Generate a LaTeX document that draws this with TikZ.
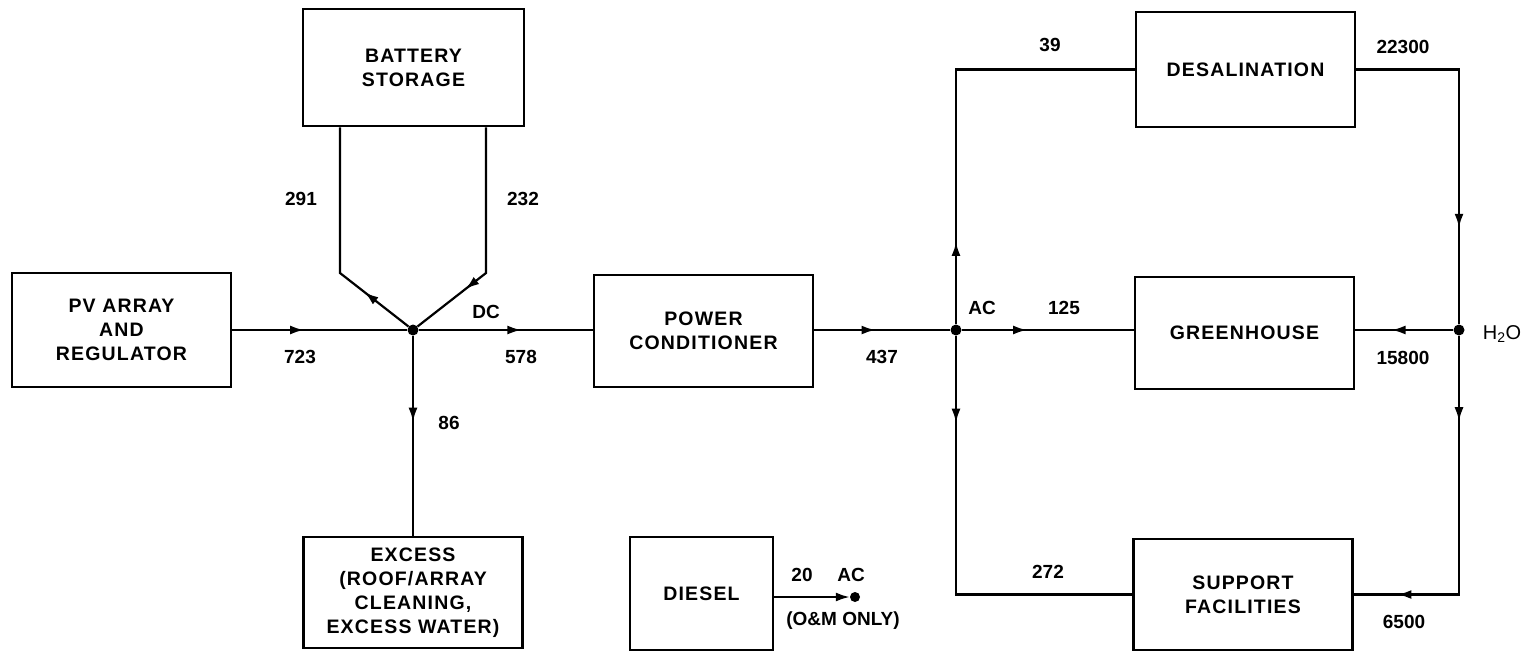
\documentclass[tikz,border=0pt]{standalone}
\usepackage{fontspec}
\setmainfont{Liberation Sans}
\newfontfamily\boxfont{Liberation Sans}[LetterSpace=6]
\usetikzlibrary{arrows.meta,decorations.markings}
\begin{document}
\begin{tikzpicture}[x=1pt,y=-1pt,
  blk/.style={draw, line width=2.6pt, minimum width=219pt, minimum height=114pt, inner sep=0pt, align=center, font=\boxfont\bfseries\fontsize{19.5}{24}\selectfont},
  lbl/.style={font=\bfseries\fontsize{19}{22}\selectfont, inner sep=0pt},
  flow/.style={line width=2.2pt},
  arrowat/.style={postaction={decorate, decoration={markings, mark=at position #1 with {\arrow{Latex[length=14pt,width=9pt]}}}}},
  dot/.style={circle, fill, inner sep=0pt, minimum size=11pt}
]
\useasboundingbox (0,0) rectangle (1527,654);
% boxes
\node[blk] (pv)  at (121.5,330) {PV ARRAY\\AND\\REGULATOR};
\node[blk, minimum width=221pt, minimum height=117pt] (bat) at (413.5,67.5) {BATTERY\\STORAGE};
\node[blk, minimum height=112pt] (pc)  at (703.5,331) {POWER\\CONDITIONER};
\node[blk, minimum height=111pt] (exc) at (413,592.5) {EXCESS\\(ROOF/ARRAY\\CLEANING,\\EXCESS WATER)};
\node[blk, minimum width=143pt, minimum height=113pt] (dsl) at (701.5,593.5) {DIESEL};
\node[blk, minimum height=115pt] (des) at (1245.5,69.5) {DESALINATION};
\node[blk, minimum height=112pt] (gh)  at (1244.5,333) {GREENHOUSE};
\node[blk, minimum height=111pt] (sup) at (1243,594.5) {SUPPORT\\FACILITIES};
% junctions
\node[dot] (J) at (413,330) {};
\node[dot] (acj) at (956,330) {};
\node[dot] (h2o) at (1459,330) {};
\node[dot, minimum size=10pt] (acd) at (855,597) {};
\coordinate (bl) at (340,273);
\coordinate (br) at (486,273);
% connectors
\draw[flow, arrowat=0.41] (pv.east |- J) -- (J);
\draw[flow, arrowat=0.24] (J) -- (bl) -- (bl |- bat.south);
\draw[flow, arrowat=0.74] (br |- bat.south) -- (br) -- (J);
\draw[flow, arrowat=0.43] (J) -- (J |- exc.north);
\draw[flow, arrowat=0.59] (J) -- (J -| pc.west);
\draw[flow, arrowat=0.45] (pc.east |- acj) -- (acj);
\draw[flow, arrowat=0.19] (acj) |- (des.west);
\draw[flow, arrowat=0.38] (acj) -- (acj -| gh.west);
\draw[flow, arrowat=0.2] (acj) |- (sup.west);
\draw[flow, arrowat=0.73] (des.east) -| (h2o);
\draw[flow, arrowat=0.63] (h2o) -- (h2o -| gh.east);
\draw[flow, arrowat=0.235, arrowat=0.88] (h2o) |- (sup.east);
\draw[flow, -{Latex[length=14pt,width=9pt]}] (dsl.east |- acd) -- (acd);
% labels
\node[lbl] (l723) at (300,357) {723};
\node[lbl] (l291) at (301,199) {291};
\node[lbl] (l232) at (523,199) {232};
\node[lbl] (ldc) at (486,312) {DC};
\node[lbl] (l578) at (521,357) {578};
\node[lbl] (l86) at (449,423) {86};
\node[lbl] (l437) at (882,357) {437};
\node[lbl] (lac) at (982,308) {AC};
\node[lbl] (l125) at (1064,308) {125};
\node[lbl] (l39) at (1050,45) {39};
\node[lbl] (l22300) at (1403,47) {22300};
\node[lbl, font=\mdseries\fontsize{20}{22}\selectfont] (lh2o) at (1502,334) {H\textsubscript{2}O};
\node[lbl] (l15800) at (1403,358) {15800};
\node[lbl] (l272) at (1048,572) {272};
\node[lbl] (l6500) at (1404,622) {6500};
\node[lbl] (l20) at (802,575) {20};
\node[lbl] (lac2) at (851,575) {AC};
\node[lbl] (lom) at (843,621) {(O\&M ONLY)};
\end{tikzpicture}
\end{document}
